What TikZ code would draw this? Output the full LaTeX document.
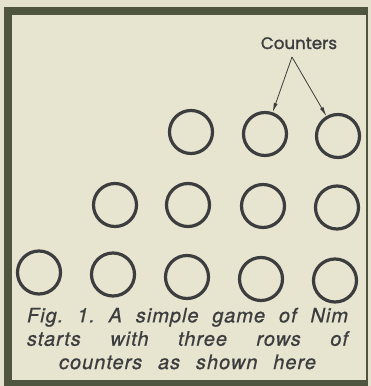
\documentclass[tikz,border=0pt]{standalone}
\usepackage{fontspec}
\newfontfamily\capfont[LetterSpace=5, FakeBold=0.6]{TeX Gyre Heros}
\newfontfamily\lblfont[FakeBold=1.5]{Poppins}
\usetikzlibrary{arrows.meta, positioning}
\definecolor{paper}{HTML}{E4E1CC}
\definecolor{panel}{HTML}{E7E4D0}
\definecolor{frame}{HTML}{50553F}
\definecolor{ink}{HTML}{3B3D3E}
\tikzset{
  counter/.style={draw=ink, circle, line width=2.4pt, minimum size=32.25pt, inner sep=0pt},
  pointer/.style={-{Latex[length=7pt,width=3pt]}, draw=ink, line width=0.6pt}
}

\begin{document}
\frenchspacing
\begin{tikzpicture}[x=0.75pt, y=-0.75pt]
  \useasboundingbox (0,0) rectangle (371,386);
  % Paper and frame
  \fill[paper] (0,0) rectangle (371,386);
  \fill[panel] (4,7) rectangle (368,386);
  \fill[frame] (4,7) rectangle (12,386);
  \fill[frame] (4,7) rectangle (368,15);
  \fill[frame] (365.5,7) rectangle (368,386);
  \fill[frame] (4,380) rectangle (368,386);

  % Label
  \node[font=\lblfont\fontsize{12.5}{15}\selectfont, text=ink, inner sep=0pt, anchor=base] (lbl) at (299,49) {Counters};
  \coordinate (fork) at (292,57);

  % Counters, top row
  \node[counter] (r1c3) at (191,132) {};
  \node[counter] (r1c4) at (265,134) {};
  \node[counter] (r1c5) at (338,136) {};
  % middle row
  \node[counter] (r2c2) at (115,205) {};
  \node[counter] (r2c3) at (188,205) {};
  \node[counter] (r2c4) at (263,206) {};
  \node[counter] (r2c5) at (337,207.5) {};
  % bottom row
  \node[counter] (r3c1) at (39,272.5) {};
  \node[counter] (r3c2) at (113,274.5) {};
  \node[counter] (r3c3) at (187,277) {};
  \node[counter] (r3c4) at (261,279) {};
  \node[counter] (r3c5) at (335,280.5) {};

  % Pointers
  \draw[pointer] (fork) -- (r1c4);
  \draw[pointer] (fork) -- (r1c5);

  % Caption
  \node[font=\capfont\itshape\fontsize{15}{17.5}\selectfont, text=ink, align=center, inner sep=0pt, anchor=north] (caption) at (187.5,307.5)
    {\makebox[240.75pt][s]{Fig. 1. A simple game of Nim}\\
     \makebox[240.75pt][s]{starts with three rows of}\\
     \makebox[192.75pt][s]{counters as shown here}};
\end{tikzpicture}
\end{document}
